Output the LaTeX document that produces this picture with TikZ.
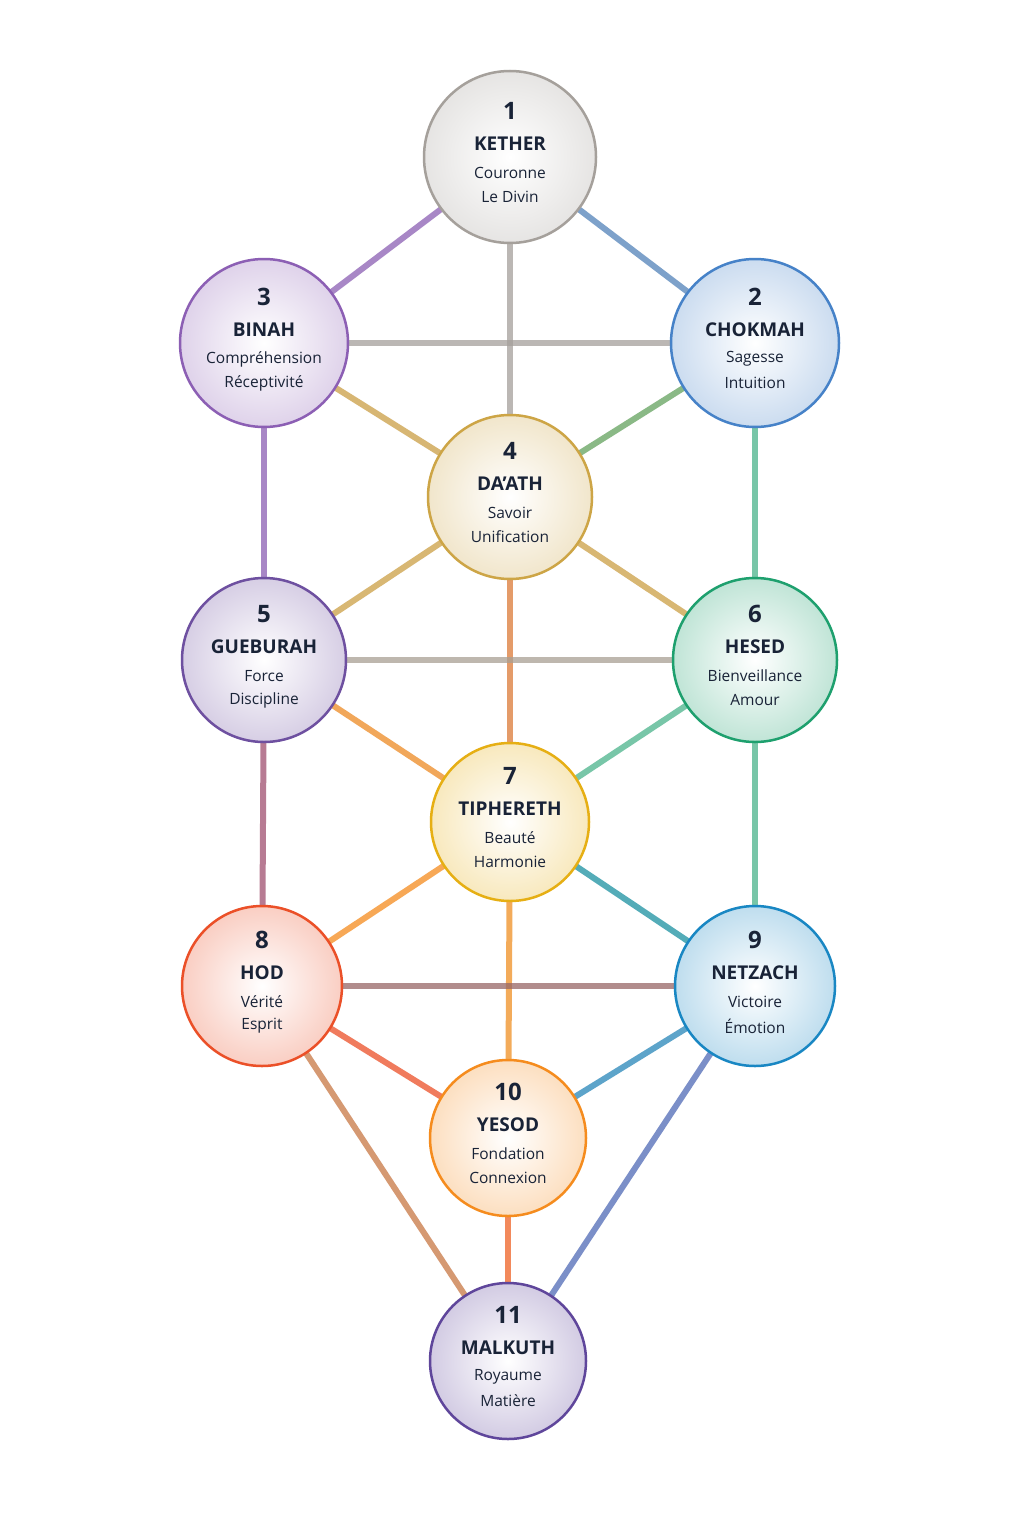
\documentclass[tikz,border=0pt]{standalone}
\usepackage{fontspec}
\setmainfont{Open Sans}
\usetikzlibrary{calc}
\definecolor{kgray}{RGB}{165,160,155}
\definecolor{bpurple}{RGB}{140,95,180}
\definecolor{cblue}{RGB}{70,130,200}
\definecolor{dgold}{RGB}{205,165,70}
\definecolor{gviolet}{RGB}{110,80,160}
\definecolor{hgreen}{RGB}{30,160,110}
\definecolor{tyellow}{RGB}{230,175,20}
\definecolor{hred}{RGB}{235,80,40}
\definecolor{ncyan}{RGB}{25,135,195}
\definecolor{yorange}{RGB}{245,140,30}
\definecolor{mpurple}{RGB}{95,70,155}
\definecolor{txt}{RGB}{25,35,55}
\tikzset{
  sefira/.style={circle, draw=#1, line width=2.5pt, inner color=white, outer color=#1!28},
  path/.style={line width=6pt, #1, opacity=0.75},
  num/.style={font=\fontsize{24}{26}\selectfont\bfseries, text=txt},
  title/.style={font=\fontsize{19}{22}\selectfont\bfseries, text=txt},
  desc/.style={font=\fontsize{15.5}{18}\selectfont, text=txt},
}
% circle with its four lines of text
\newcommand{\sefira}[9]{%
  \node[sefira=#5, minimum size=#4*2pt] (#1) at (#2,#3) {};
  \node[num] (#1-n) at (#2,#3-46) {#6};
  \node[title] (#1-t) at (#2,#3-13) {#7};
  \node[desc] (#1-a) at (#2,#3+16) {#8};
  \node[desc] (#1-b) at (#2,#3+40) {#9};
}
\begin{document}
\begin{tikzpicture}[x=1pt,y=-1pt]
  \useasboundingbox[fill=white] (0,0) rectangle (1024,1536);

  % centres only, so the paths can be drawn first
  \foreach \n/\x/\y in {ke/510/157, bi/264/343, ch/755/343, da/510/497, ge/264/660,
      he/755/660, ti/510/822, ho/262/986, ne/755/986, ye/508/1138, ma/508/1361}
    \coordinate (\n c) at (\x,\y);

  % paths
  \draw[path=bpurple] (kec) -- (bic);
  \draw[path=cblue!80!gray] (kec) -- (chc);
  \draw[path=kgray] (kec) -- (dac);
  \draw[path=kgray] (bic) -- (chc);
  \draw[path=dgold!80!brown] (bic) -- (dac);
  \draw[path=hgreen!60!dgold] (chc) -- (dac);
  \draw[path=bpurple] (bic) -- (gec);
  \draw[path=hgreen!80] (chc) -- (hec);
  \draw[path=dgold!85!brown] (dac) -- (gec);
  \draw[path=dgold!85!brown] (dac) -- (hec);
  \draw[path=hred!50!dgold] (dac) -- (tic);
  \draw[path=kgray!90!dgold] (gec) -- (hec);
  \draw[path=yorange!85!brown] (gec) -- (tic);
  \draw[path=hgreen!80] (hec) -- (tic);
  \draw[path=gviolet!60!hred] (gec) -- (hoc);
  \draw[path=hgreen!80] (hec) -- (nec);
  \draw[path=yorange] (tic) -- (hoc);
  \draw[path=ncyan!60!hgreen] (tic) -- (nec);
  \draw[path=yorange!85!dgold] (tic) -- (yec);
  \draw[path=hred!60!ncyan] (hoc) -- (nec);
  \draw[path=hred] (hoc) -- (yec);
  \draw[path=ncyan!85!gray] (nec) -- (yec);
  \draw[path=yorange!70!mpurple] (hoc) -- (mac);
  \draw[path=cblue!60!mpurple] (nec) -- (mac);
  \draw[path=hred!70!yorange] (yec) -- (mac);

  % sephiroth
  \sefira{ke}{510}{157}{86}{kgray}{1}{KETHER}{Couronne}{Le Divin}
  \sefira{bi}{264}{343}{84}{bpurple}{3}{BINAH}{Compréhension}{Réceptivité}
  \sefira{ch}{755}{343}{84}{cblue}{2}{CHOKMAH}{Sagesse}{Intuition}
  \sefira{da}{510}{497}{82}{dgold}{4}{DA'ATH}{Savoir}{Unification}
  \sefira{ge}{264}{660}{82}{gviolet}{5}{GUEBURAH}{Force}{Discipline}
  \sefira{he}{755}{660}{82}{hgreen}{6}{HESED}{Bienveillance}{Amour}
  \sefira{ti}{510}{822}{79}{tyellow}{7}{TIPHERETH}{Beauté}{Harmonie}
  \sefira{ho}{262}{986}{80}{hred}{8}{HOD}{Vérité}{Esprit}
  \sefira{ne}{755}{986}{80}{ncyan}{9}{NETZACH}{Victoire}{Émotion}
  \sefira{ye}{508}{1138}{78}{yorange}{10}{YESOD}{Fondation}{Connexion}
  \sefira{ma}{508}{1361}{78}{mpurple}{11}{MALKUTH}{Royaume}{Matière}
\end{tikzpicture}
\end{document}
